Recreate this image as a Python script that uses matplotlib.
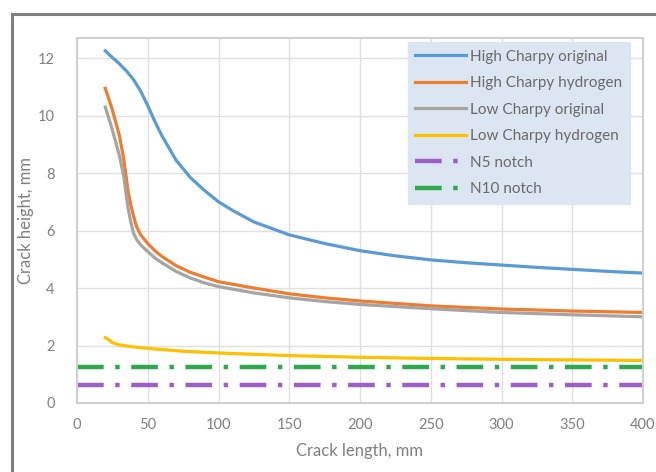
import matplotlib
matplotlib.use("Agg")
import matplotlib.pyplot as plt
from matplotlib.patches import Rectangle

plt.rcParams['font.family'] = ['Lato', 'DejaVu Sans']

# ---- data ----
hc_orig_x = [20, 25, 30, 35, 40, 45, 50, 55, 60, 70, 80, 90, 100, 110, 125, 150, 175, 200, 225, 250, 275, 300, 325, 350, 375, 400]
hc_orig_y = [12.25, 12.02, 11.8, 11.55, 11.25, 10.85, 10.35, 9.8, 9.3, 8.45, 7.85, 7.4, 7.0, 6.7, 6.3, 5.85, 5.55, 5.3, 5.12, 4.98, 4.88, 4.8, 4.72, 4.65, 4.58, 4.52]

hc_h2_x = [20, 25, 30, 33, 36, 38, 40, 42, 45, 50, 55, 60, 70, 80, 90, 100, 125, 150, 175, 200, 250, 300, 350, 400]
hc_h2_y = [10.95, 10.2, 9.3, 8.5, 7.4, 6.9, 6.5, 6.15, 5.85, 5.55, 5.3, 5.1, 4.78, 4.55, 4.38, 4.22, 4.0, 3.8, 3.66, 3.55, 3.38, 3.27, 3.2, 3.15]

lc_orig_x = [20, 25, 30, 33, 36, 38, 40, 42, 45, 50, 55, 60, 70, 80, 90, 100, 125, 150, 175, 200, 250, 300, 350, 400]
lc_orig_y = [10.3, 9.5, 8.6, 7.9, 6.8, 6.3, 5.9, 5.7, 5.5, 5.27, 5.05, 4.88, 4.58, 4.35, 4.18, 4.05, 3.83, 3.66, 3.53, 3.43, 3.28, 3.15, 3.07, 3.0]

lc_h2_x = [20, 22, 25, 30, 40, 50, 75, 100, 150, 200, 250, 300, 350, 400]
lc_h2_y = [2.27, 2.22, 2.1, 2.02, 1.95, 1.9, 1.8, 1.74, 1.65, 1.59, 1.55, 1.52, 1.5, 1.48]

notch_x = [0, 400]
n5_value = 0.63
n10_value = 1.27

labels = ["High Charpy original", "High Charpy hydrogen", "Low Charpy original",
          "Low Charpy hydrogen", "N5 notch", "N10 notch"]
x_ticks = [0, 50, 100, 150, 200, 250, 300, 350, 400]
y_ticks = [0, 2, 4, 6, 8, 10, 12]

# ---- figure ----
fig = plt.figure(figsize=(6.56, 4.72), dpi=100)
ax = fig.add_axes([77/656, 1-403/472, (643-77)/656, (403-38)/472])

# outer frame
fig.patches.append(Rectangle((12/656, -0.05), 1.0, 1 - 14/472 + 0.05,
                             transform=fig.transFigure, fill=False,
                             edgecolor='#7f7f7f', linewidth=2.2))

txt = '#808080'
ax.plot(hc_orig_x, hc_orig_y, color='#5b9bd5', lw=2.3, label=labels[0])
ax.plot(hc_h2_x, hc_h2_y, color='#ed7d31', lw=2.3, label=labels[1])
ax.plot(lc_orig_x, lc_orig_y, color='#a5a5a5', lw=2.3, label=labels[2])
ax.plot(lc_h2_x, lc_h2_y, color='#ffc000', lw=2.3, label=labels[3])
ax.plot(notch_x, [n5_value]*2, color='#9c5ec8', lw=3.2, dashes=(6, 2.6, 1, 2.6), label=labels[4])
ax.plot(notch_x, [n10_value]*2, color='#2ea84f', lw=3.2, dashes=(6, 2.6, 1, 2.6), label=labels[5])

ax.set_xlim(0, 400)
ax.set_ylim(0, 12.7)
ax.set_xticks(x_ticks)
ax.set_yticks(y_ticks)
ax.grid(True, color='#e0e0e0', lw=1)
ax.set_axisbelow(True)
for s in ax.spines.values():
    s.set_color('#d0d0d0')
    s.set_linewidth(1.5)
ax.tick_params(length=0, colors=txt, labelsize=10.5)
ax.tick_params(axis='y', pad=16)
ax.tick_params(axis='x', pad=11)
ax.set_xlabel("Crack length, mm", color=txt, fontsize=12, labelpad=8)
ax.set_ylabel("Crack height, mm", color=txt, fontsize=12, labelpad=3)

leg = ax.legend(loc='upper right', bbox_to_anchor=((630-77)/566, (403-42)/365),
                fontsize=11, frameon=True, fancybox=False, handlelength=3.3,
                handletextpad=0.3, labelspacing=0.82, borderpad=0.5,
                borderaxespad=0, labelcolor='#6a6a6a')
leg.get_frame().set_facecolor('#dce6f2')
leg.get_frame().set_edgecolor('#dce6f2')
leg.get_frame().set_alpha(1)

fig.savefig("out.png", dpi=100)
